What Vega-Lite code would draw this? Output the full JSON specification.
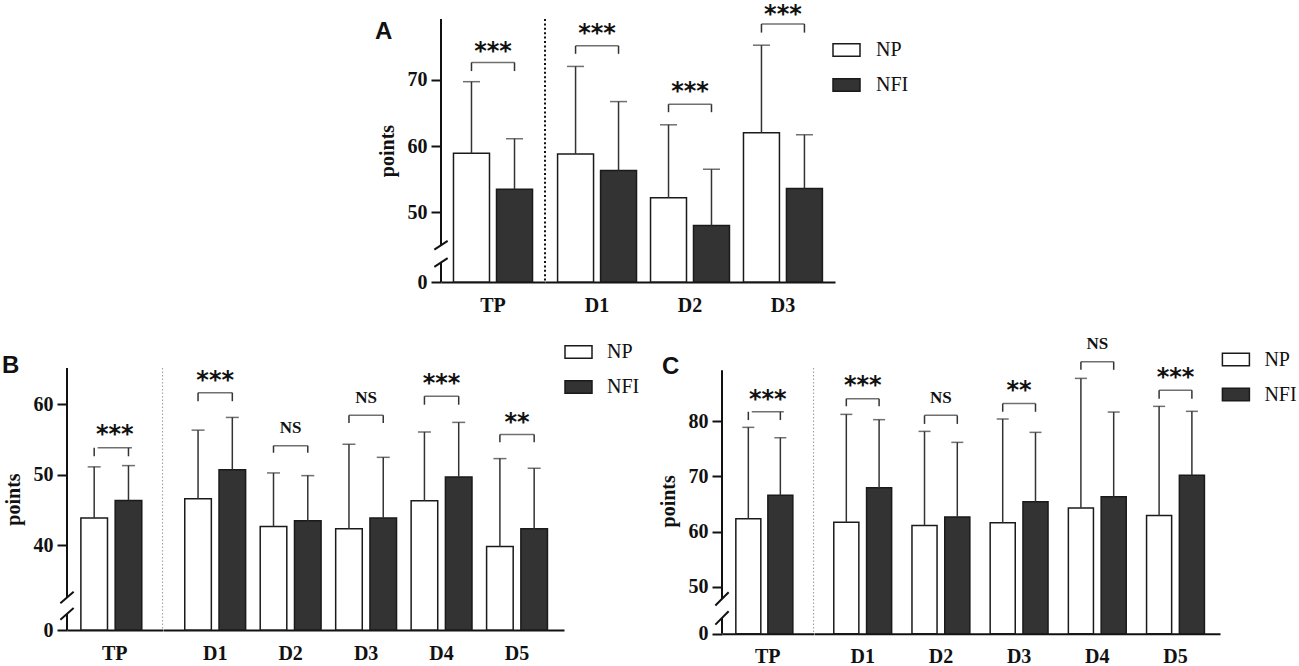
{
  "$schema": "https://vega.github.io/schema/vega-lite/v6.json",
  "padding": {"left": 2, "top": 2, "right": 0, "bottom": 0},
  "datasets": {
    "barsA": [
      {"group": "TP", "series": "NP", "mean": 58.9, "upper": 69.7},
      {"group": "TP", "series": "NFI", "mean": 53.5, "upper": 61.1},
      {"group": "D1", "series": "NP", "mean": 58.8, "upper": 72.0},
      {"group": "D1", "series": "NFI", "mean": 56.3, "upper": 66.7},
      {"group": "D2", "series": "NP", "mean": 52.2, "upper": 63.2},
      {"group": "D2", "series": "NFI", "mean": 48.0, "upper": 56.5},
      {"group": "D3", "series": "NP", "mean": 62.0, "upper": 75.2},
      {"group": "D3", "series": "NFI", "mean": 53.6, "upper": 61.7}
    ],
    "sigA": [
      {"group": "TP", "top": 72.6, "leg": 71.3, "label": "***", "label_y": 75.0},
      {"group": "D1", "top": 75.1, "leg": 73.9, "label": "***", "label_y": 77.6},
      {"group": "D2", "top": 66.3, "leg": 65.1, "label": "***", "label_y": 68.9},
      {"group": "D3", "top": 78.4, "leg": 77.1, "label": "***", "label_y": 80.55}
    ],
    "axisA": [{"from": 39.5, "to": 42.45}, {"from": 45.03, "to": 79.15}],
    "breaksA": [{"at": 42.45}, {"at": 45.03}],
    "barsB": [
      {"group": "TP", "series": "NP", "mean": 43.86, "upper": 51.1},
      {"group": "TP", "series": "NFI", "mean": 46.35, "upper": 51.28},
      {"group": "D1", "series": "NP", "mean": 46.6, "upper": 56.3},
      {"group": "D1", "series": "NFI", "mean": 50.7, "upper": 58.1},
      {"group": "D2", "series": "NP", "mean": 42.67, "upper": 50.24},
      {"group": "D2", "series": "NFI", "mean": 43.47, "upper": 49.86},
      {"group": "D3", "series": "NP", "mean": 42.34, "upper": 54.3},
      {"group": "D3", "series": "NFI", "mean": 43.86, "upper": 52.45},
      {"group": "D4", "series": "NP", "mean": 46.3, "upper": 56.05},
      {"group": "D4", "series": "NFI", "mean": 49.67, "upper": 57.4},
      {"group": "D5", "series": "NP", "mean": 39.83, "upper": 52.27},
      {"group": "D5", "series": "NFI", "mean": 42.34, "upper": 50.9}
    ],
    "sigB": [
      {"group": "TP", "top": 53.8, "leg": 52.6, "label": "***", "label_y": 56.3},
      {"group": "D1", "top": 61.6, "leg": 60.4, "label": "***", "label_y": 63.95},
      {"group": "D2", "top": 54.1, "leg": 53.1, "label": "NS", "label_y": 56.8},
      {"group": "D3", "top": 58.4, "leg": 57.3, "label": "NS", "label_y": 61.0},
      {"group": "D4", "top": 61.1, "leg": 59.9, "label": "***", "label_y": 63.5},
      {"group": "D5", "top": 55.7, "leg": 54.6, "label": "**", "label_y": 58.0}
    ],
    "axisB": [{"from": 28.0, "to": 30.27}, {"from": 32.6, "to": 65.1}],
    "breaksB": [{"at": 30.27}, {"at": 32.6}],
    "barsC": [
      {"group": "TP", "series": "NP", "mean": 62.33, "upper": 78.88},
      {"group": "TP", "series": "NFI", "mean": 66.56, "upper": 77.0},
      {"group": "D1", "series": "NP", "mean": 61.67, "upper": 81.23},
      {"group": "D1", "series": "NFI", "mean": 67.95, "upper": 80.27},
      {"group": "D2", "series": "NP", "mean": 61.12, "upper": 78.15},
      {"group": "D2", "series": "NFI", "mean": 62.63, "upper": 76.16},
      {"group": "D3", "series": "NP", "mean": 61.6, "upper": 80.39},
      {"group": "D3", "series": "NFI", "mean": 65.4, "upper": 77.97},
      {"group": "D4", "series": "NP", "mean": 64.26, "upper": 87.75},
      {"group": "D4", "series": "NFI", "mean": 66.3, "upper": 81.65},
      {"group": "D5", "series": "NP", "mean": 62.93, "upper": 82.68},
      {"group": "D5", "series": "NFI", "mean": 70.18, "upper": 81.78}
    ],
    "sigC": [
      {"group": "TP", "top": 81.7, "leg": 80.2, "label": "***", "label_y": 84.8},
      {"group": "D1", "top": 84.07, "leg": 82.7, "label": "***", "label_y": 87.2},
      {"group": "D2", "top": 81.05, "leg": 79.5, "label": "NS", "label_y": 84.4},
      {"group": "D3", "top": 83.2, "leg": 81.7, "label": "**", "label_y": 86.3},
      {"group": "D4", "top": 90.77, "leg": 89.3, "label": "NS", "label_y": 94.2},
      {"group": "D5", "top": 85.6, "leg": 84.07, "label": "***", "label_y": 88.7}
    ],
    "axisC": [{"from": 41.5, "to": 44.35}, {"from": 47.8, "to": 89.2}],
    "breaksC": [{"at": 44.35}, {"at": 47.8}]
  },
  "vconcat": [
    {
      "hconcat": [
        {"width": 308, "height": 1, "data": {"values": []}, "mark": {"type": "point", "opacity": 0}},
        {
          "hconcat": [
            {
              "width": 104, "height": 263,
              "title": {"text": "A", "dx": -66, "dy": 30},
              "layer": [
                {
                  "data": {"name": "barsA"}, "transform": [{"filter": "datum.group === 'TP'"}],
                  "mark": {"type": "bar", "stroke": "#1a1a1a", "strokeWidth": 1.5},
                  "encoding": {
                    "x": {"field": "group", "type": "nominal", "scale": {"domain": ["TP"], "paddingInner": 0, "paddingOuter": 0}, "axis": {"title": null}},
                    "xOffset": {"field": "series", "type": "nominal", "scale": {"domain": ["NP", "NFI"], "paddingInner": 0.163, "paddingOuter": 0.29}},
                    "y": {"field": "mean", "type": "quantitative", "scale": {"domain": [39.5, 79.15], "nice": false, "zero": false}, "axis": {"title": "points", "values": [39.5, 50, 60, 70], "labelExpr": "datum.value < 45 ? '0' : datum.label"}},
                    "y2": {"datum": 39.5},
                    "fill": {"field": "series", "type": "nominal", "scale": {"domain": ["NP", "NFI"], "range": ["#ffffff", "#333333"]}, "legend": null}
                  }
                },
                {
                  "data": {"name": "barsA"}, "transform": [{"filter": "datum.group === 'TP'"}],
                  "mark": {"type": "rule", "color": "#333333", "strokeWidth": 1.5},
                  "encoding": {"x": {"field": "group", "type": "nominal"}, "xOffset": {"field": "series", "type": "nominal"}, "y": {"field": "mean", "type": "quantitative"}, "y2": {"field": "upper"}}
                },
                {
                  "data": {"name": "barsA"}, "transform": [{"filter": "datum.group === 'TP'"}],
                  "mark": {"type": "tick", "color": "#333333", "size": 17, "thickness": 1.5},
                  "encoding": {"x": {"field": "group", "type": "nominal"}, "xOffset": {"field": "series", "type": "nominal"}, "y": {"field": "upper", "type": "quantitative"}}
                },
                {
                  "data": {"name": "barsA"}, "transform": [{"filter": "datum.group === 'TP'"}, {"lookup": "group", "from": {"data": {"name": "sigA"}, "key": "group", "fields": ["top", "leg"]}}],
                  "mark": {"type": "rule", "color": "#333333", "strokeWidth": 1.5},
                  "encoding": {"x": {"field": "group", "type": "nominal"}, "xOffset": {"field": "series", "type": "nominal"}, "y": {"field": "leg", "type": "quantitative"}, "y2": {"field": "top"}}
                },
                {
                  "data": {"name": "sigA"}, "transform": [{"filter": "datum.group === 'TP'"}],
                  "mark": {"type": "tick", "color": "#333333", "size": 43, "thickness": 1.5},
                  "encoding": {"x": {"field": "group", "type": "nominal"}, "y": {"field": "top", "type": "quantitative"}}
                },
                {
                  "data": {"name": "sigA"}, "transform": [{"filter": "datum.group === 'TP' && datum.label !== 'NS'"}],
                  "mark": {"type": "text", "font": "DejaVu Sans", "fontWeight": "bold", "fontSize": 24, "baseline": "alphabetic", "dy": 12, "color": "#111111"},
                  "encoding": {"x": {"field": "group", "type": "nominal"}, "y": {"field": "label_y", "type": "quantitative"}, "text": {"field": "label"}}
                },
                {
                  "data": {"name": "axisA"},
                  "mark": {"type": "rule", "color": "#111111", "strokeWidth": 2},
                  "encoding": {"x": {"datum": "TP", "type": "nominal", "bandPosition": 0}, "y": {"field": "from", "type": "quantitative"}, "y2": {"field": "to"}}
                },
                {
                  "data": {"name": "breaksA"},
                  "mark": {"type": "point", "shape": "M-1,0.66L1,-0.66", "filled": false, "stroke": "#111111", "strokeWidth": 2, "size": 177, "opacity": 1},
                  "encoding": {"x": {"datum": "TP", "type": "nominal", "bandPosition": 0}, "y": {"field": "at", "type": "quantitative"}}
                },
                {
                  "data": {"values": [{}]},
                  "mark": {"type": "rule", "color": "#111111", "strokeWidth": 2, "strokeDash": [2, 2.4]},
                  "encoding": {"x": {"datum": "TP", "type": "nominal", "bandPosition": 1}}
                }
              ]
            },
            {
              "width": 290, "height": 263,
              "layer": [
                {
                  "data": {"name": "barsA"}, "transform": [{"filter": "datum.group !== 'TP'"}],
                  "mark": {"type": "bar", "stroke": "#1a1a1a", "strokeWidth": 1.5},
                  "encoding": {
                    "x": {"field": "group", "type": "nominal", "scale": {"domain": ["D1", "D2", "D3"], "paddingInner": 0, "paddingOuter": 0.06}, "axis": {"title": null}},
                    "xOffset": {"field": "series", "type": "nominal", "scale": {"domain": ["NP", "NFI"], "paddingInner": 0.163, "paddingOuter": 0.163}},
                    "y": {"field": "mean", "type": "quantitative", "scale": {"domain": [39.5, 79.15], "nice": false, "zero": false}, "axis": null},
                    "y2": {"datum": 39.5},
                    "fill": {"field": "series", "type": "nominal", "scale": {"domain": ["NP", "NFI"], "range": ["#ffffff", "#333333"]},
                      "legend": {"title": null, "orient": "none", "legendX": 287, "legendY": 16.5, "symbolType": "M-1,-0.47H1V0.47H-1Z", "symbolSize": 729, "symbolStrokeColor": "#1a1a1a", "symbolStrokeWidth": 1.5, "labelFont": "Liberation Serif", "labelFontSize": 20, "labelColor": "#111111", "labelOffset": 15, "rowPadding": 10}}
                  }
                },
                {
                  "data": {"name": "barsA"}, "transform": [{"filter": "datum.group !== 'TP'"}],
                  "mark": {"type": "rule", "color": "#333333", "strokeWidth": 1.5},
                  "encoding": {"x": {"field": "group", "type": "nominal"}, "xOffset": {"field": "series", "type": "nominal"}, "y": {"field": "mean", "type": "quantitative", "axis": null}, "y2": {"field": "upper"}}
                },
                {
                  "data": {"name": "barsA"}, "transform": [{"filter": "datum.group !== 'TP'"}],
                  "mark": {"type": "tick", "color": "#333333", "size": 17, "thickness": 1.5},
                  "encoding": {"x": {"field": "group", "type": "nominal"}, "xOffset": {"field": "series", "type": "nominal"}, "y": {"field": "upper", "type": "quantitative", "axis": null}}
                },
                {
                  "data": {"name": "barsA"}, "transform": [{"filter": "datum.group !== 'TP'"}, {"lookup": "group", "from": {"data": {"name": "sigA"}, "key": "group", "fields": ["top", "leg"]}}],
                  "mark": {"type": "rule", "color": "#333333", "strokeWidth": 1.5},
                  "encoding": {"x": {"field": "group", "type": "nominal"}, "xOffset": {"field": "series", "type": "nominal"}, "y": {"field": "leg", "type": "quantitative", "axis": null}, "y2": {"field": "top"}}
                },
                {
                  "data": {"name": "sigA"}, "transform": [{"filter": "datum.group !== 'TP'"}],
                  "mark": {"type": "tick", "color": "#333333", "size": 43, "thickness": 1.5},
                  "encoding": {"x": {"field": "group", "type": "nominal"}, "y": {"field": "top", "type": "quantitative", "axis": null}}
                },
                {
                  "data": {"name": "sigA"}, "transform": [{"filter": "datum.group !== 'TP' && datum.label !== 'NS'"}],
                  "mark": {"type": "text", "font": "DejaVu Sans", "fontWeight": "bold", "fontSize": 24, "baseline": "alphabetic", "dy": 12, "color": "#111111"},
                  "encoding": {"x": {"field": "group", "type": "nominal"}, "y": {"field": "label_y", "type": "quantitative", "axis": null}, "text": {"field": "label"}}
                }
              ]
            }
          ],
          "spacing": 0, "bounds": "flush",
          "resolve": {"scale": {"x": "independent", "xOffset": "independent", "y": "independent", "fill": "independent"}, "legend": {"fill": "independent"}}
        }
      ],
      "spacing": 0,
      "resolve": {"scale": {"fill": "independent"}, "legend": {"fill": "independent"}}
    },
    {
      "hconcat": [
        {
          "hconcat": [
            {
              "width": 95.6, "height": 262,
              "title": {"text": "B", "dx": -65, "dy": 15},
              "layer": [
                {
                  "data": {"name": "barsB"}, "transform": [{"filter": "datum.group === 'TP'"}],
                  "mark": {"type": "bar", "stroke": "#1a1a1a", "strokeWidth": 1.5},
                  "encoding": {
                    "x": {"field": "group", "type": "nominal", "scale": {"domain": ["TP"], "paddingInner": 0, "paddingOuter": 0}, "axis": {"title": null}},
                    "xOffset": {"field": "series", "type": "nominal", "scale": {"domain": ["NP", "NFI"], "paddingInner": 0.224, "paddingOuter": 0.506, "align": 0.4}},
                    "y": {"field": "mean", "type": "quantitative", "scale": {"domain": [28.0, 65.1], "nice": false, "zero": false}, "axis": {"title": "points", "values": [28.0, 40, 50, 60], "labelExpr": "datum.value < 35 ? '0' : datum.label"}},
                    "y2": {"datum": 28.0},
                    "fill": {"field": "series", "type": "nominal", "scale": {"domain": ["NP", "NFI"], "range": ["#ffffff", "#333333"]}, "legend": null}
                  }
                },
                {
                  "data": {"name": "barsB"}, "transform": [{"filter": "datum.group === 'TP'"}],
                  "mark": {"type": "rule", "color": "#333333", "strokeWidth": 1.5},
                  "encoding": {"x": {"field": "group", "type": "nominal"}, "xOffset": {"field": "series", "type": "nominal"}, "y": {"field": "mean", "type": "quantitative"}, "y2": {"field": "upper"}}
                },
                {
                  "data": {"name": "barsB"}, "transform": [{"filter": "datum.group === 'TP'"}],
                  "mark": {"type": "tick", "color": "#333333", "size": 13, "thickness": 1.5},
                  "encoding": {"x": {"field": "group", "type": "nominal"}, "xOffset": {"field": "series", "type": "nominal"}, "y": {"field": "upper", "type": "quantitative"}}
                },
                {
                  "data": {"name": "barsB"}, "transform": [{"filter": "datum.group === 'TP'"}, {"lookup": "group", "from": {"data": {"name": "sigB"}, "key": "group", "fields": ["top", "leg"]}}],
                  "mark": {"type": "rule", "color": "#333333", "strokeWidth": 1.5},
                  "encoding": {"x": {"field": "group", "type": "nominal"}, "xOffset": {"field": "series", "type": "nominal"}, "y": {"field": "leg", "type": "quantitative"}, "y2": {"field": "top"}}
                },
                {
                  "data": {"name": "sigB"}, "transform": [{"filter": "datum.group === 'TP'"}],
                  "mark": {"type": "tick", "color": "#333333", "size": 34.3, "thickness": 1.5},
                  "encoding": {"x": {"field": "group", "type": "nominal"}, "y": {"field": "top", "type": "quantitative"}}
                },
                {
                  "data": {"name": "sigB"}, "transform": [{"filter": "datum.group === 'TP' && datum.label !== 'NS'"}],
                  "mark": {"type": "text", "font": "DejaVu Sans", "fontWeight": "bold", "fontSize": 24, "baseline": "alphabetic", "dy": 12, "color": "#111111"},
                  "encoding": {"x": {"field": "group", "type": "nominal"}, "y": {"field": "label_y", "type": "quantitative"}, "text": {"field": "label"}}
                },
                {
                  "data": {"name": "axisB"},
                  "mark": {"type": "rule", "color": "#111111", "strokeWidth": 2},
                  "encoding": {"x": {"datum": "TP", "type": "nominal", "bandPosition": 0}, "y": {"field": "from", "type": "quantitative"}, "y2": {"field": "to"}}
                },
                {
                  "data": {"name": "breaksB"},
                  "mark": {"type": "point", "shape": "M-1,0.88L1,-0.88", "filled": false, "stroke": "#111111", "strokeWidth": 2, "size": 177, "opacity": 1},
                  "encoding": {"x": {"datum": "TP", "type": "nominal", "bandPosition": 0}, "y": {"field": "at", "type": "quantitative"}}
                },
                {
                  "data": {"values": [{}]},
                  "mark": {"type": "rule", "color": "#999999", "strokeWidth": 1, "strokeDash": [1.5, 2]},
                  "encoding": {"x": {"datum": "TP", "type": "nominal", "bandPosition": 1}}
                }
              ]
            },
            {
              "width": 401, "height": 262,
              "layer": [
                {
                  "data": {"name": "barsB"}, "transform": [{"filter": "datum.group !== 'TP'"}],
                  "mark": {"type": "bar", "stroke": "#1a1a1a", "strokeWidth": 1.5},
                  "encoding": {
                    "x": {"field": "group", "type": "nominal", "scale": {"domain": ["D1", "D2", "D3", "D4", "D5"], "paddingInner": 0, "paddingOuter": 0.157, "align": 0.61}, "axis": {"title": null}},
                    "xOffset": {"field": "series", "type": "nominal", "scale": {"domain": ["NP", "NFI"], "paddingInner": 0.224, "paddingOuter": 0.213}},
                    "y": {"field": "mean", "type": "quantitative", "scale": {"domain": [28.0, 65.1], "nice": false, "zero": false}, "axis": null},
                    "y2": {"datum": 28.0},
                    "fill": {"field": "series", "type": "nominal", "scale": {"domain": ["NP", "NFI"], "range": ["#ffffff", "#333333"]},
                      "legend": {"title": null, "orient": "none", "legendX": 401, "legendY": -30.5, "symbolType": "M-1,-0.47H1V0.47H-1Z", "symbolSize": 729, "symbolStrokeColor": "#1a1a1a", "symbolStrokeWidth": 1.5, "labelFont": "Liberation Serif", "labelFontSize": 20, "labelColor": "#111111", "labelOffset": 14, "rowPadding": 10}}
                  }
                },
                {
                  "data": {"name": "barsB"}, "transform": [{"filter": "datum.group !== 'TP'"}],
                  "mark": {"type": "rule", "color": "#333333", "strokeWidth": 1.5},
                  "encoding": {"x": {"field": "group", "type": "nominal"}, "xOffset": {"field": "series", "type": "nominal"}, "y": {"field": "mean", "type": "quantitative", "axis": null}, "y2": {"field": "upper"}}
                },
                {
                  "data": {"name": "barsB"}, "transform": [{"filter": "datum.group !== 'TP'"}],
                  "mark": {"type": "tick", "color": "#333333", "size": 13, "thickness": 1.5},
                  "encoding": {"x": {"field": "group", "type": "nominal"}, "xOffset": {"field": "series", "type": "nominal"}, "y": {"field": "upper", "type": "quantitative", "axis": null}}
                },
                {
                  "data": {"name": "barsB"}, "transform": [{"filter": "datum.group !== 'TP'"}, {"lookup": "group", "from": {"data": {"name": "sigB"}, "key": "group", "fields": ["top", "leg"]}}],
                  "mark": {"type": "rule", "color": "#333333", "strokeWidth": 1.5},
                  "encoding": {"x": {"field": "group", "type": "nominal"}, "xOffset": {"field": "series", "type": "nominal"}, "y": {"field": "leg", "type": "quantitative", "axis": null}, "y2": {"field": "top"}}
                },
                {
                  "data": {"name": "sigB"}, "transform": [{"filter": "datum.group !== 'TP'"}],
                  "mark": {"type": "tick", "color": "#333333", "size": 34.3, "thickness": 1.5},
                  "encoding": {"x": {"field": "group", "type": "nominal"}, "y": {"field": "top", "type": "quantitative", "axis": null}}
                },
                {
                  "data": {"name": "sigB"}, "transform": [{"filter": "datum.group !== 'TP' && datum.label !== 'NS'"}],
                  "mark": {"type": "text", "font": "DejaVu Sans", "fontWeight": "bold", "fontSize": 24, "baseline": "alphabetic", "dy": 12, "color": "#111111"},
                  "encoding": {"x": {"field": "group", "type": "nominal"}, "y": {"field": "label_y", "type": "quantitative", "axis": null}, "text": {"field": "label"}}
                },
                {
                  "data": {"name": "sigB"}, "transform": [{"filter": "datum.group !== 'TP' && datum.label === 'NS'"}],
                  "mark": {"type": "text", "font": "Liberation Serif", "fontWeight": "bold", "fontSize": 17, "baseline": "alphabetic", "dy": 6, "color": "#111111"},
                  "encoding": {"x": {"field": "group", "type": "nominal"}, "y": {"field": "label_y", "type": "quantitative", "axis": null}, "text": {"field": "label"}}
                }
              ]
            }
          ],
          "spacing": 0, "bounds": "flush",
          "resolve": {"scale": {"x": "independent", "xOffset": "independent", "y": "independent", "fill": "independent"}, "legend": {"fill": "independent"}}
        },
        {
          "hconcat": [
            {
              "width": 91.6, "height": 265.7,
              "title": {"text": "C", "dx": -60, "dy": 15},
              "layer": [
                {
                  "data": {"name": "barsC"}, "transform": [{"filter": "datum.group === 'TP'"}],
                  "mark": {"type": "bar", "stroke": "#1a1a1a", "strokeWidth": 1.5},
                  "encoding": {
                    "x": {"field": "group", "type": "nominal", "scale": {"domain": ["TP"], "paddingInner": 0, "paddingOuter": 0}, "axis": {"title": null}},
                    "xOffset": {"field": "series", "type": "nominal", "scale": {"domain": ["NP", "NFI"], "paddingInner": 0.22, "paddingOuter": 0.54, "align": 0.4}},
                    "y": {"field": "mean", "type": "quantitative", "scale": {"domain": [41.5, 89.63], "nice": false, "zero": false}, "axis": {"title": "points", "values": [41.5, 50, 60, 70, 80], "labelExpr": "datum.value < 45 ? '0' : datum.label"}},
                    "y2": {"datum": 41.5},
                    "fill": {"field": "series", "type": "nominal", "scale": {"domain": ["NP", "NFI"], "range": ["#ffffff", "#333333"]}, "legend": null}
                  }
                },
                {
                  "data": {"name": "barsC"}, "transform": [{"filter": "datum.group === 'TP'"}],
                  "mark": {"type": "rule", "color": "#333333", "strokeWidth": 1.5},
                  "encoding": {"x": {"field": "group", "type": "nominal"}, "xOffset": {"field": "series", "type": "nominal"}, "y": {"field": "mean", "type": "quantitative"}, "y2": {"field": "upper"}}
                },
                {
                  "data": {"name": "barsC"}, "transform": [{"filter": "datum.group === 'TP'"}],
                  "mark": {"type": "tick", "color": "#333333", "size": 12, "thickness": 1.5},
                  "encoding": {"x": {"field": "group", "type": "nominal"}, "xOffset": {"field": "series", "type": "nominal"}, "y": {"field": "upper", "type": "quantitative"}}
                },
                {
                  "data": {"name": "barsC"}, "transform": [{"filter": "datum.group === 'TP'"}, {"lookup": "group", "from": {"data": {"name": "sigC"}, "key": "group", "fields": ["top", "leg"]}}],
                  "mark": {"type": "rule", "color": "#333333", "strokeWidth": 1.5},
                  "encoding": {"x": {"field": "group", "type": "nominal"}, "xOffset": {"field": "series", "type": "nominal"}, "y": {"field": "leg", "type": "quantitative"}, "y2": {"field": "top"}}
                },
                {
                  "data": {"name": "sigC"}, "transform": [{"filter": "datum.group === 'TP'"}],
                  "mark": {"type": "tick", "color": "#333333", "size": 32, "thickness": 1.5},
                  "encoding": {"x": {"field": "group", "type": "nominal"}, "y": {"field": "top", "type": "quantitative"}}
                },
                {
                  "data": {"name": "sigC"}, "transform": [{"filter": "datum.group === 'TP' && datum.label !== 'NS'"}],
                  "mark": {"type": "text", "font": "DejaVu Sans", "fontWeight": "bold", "fontSize": 24, "baseline": "alphabetic", "dy": 12, "color": "#111111"},
                  "encoding": {"x": {"field": "group", "type": "nominal"}, "y": {"field": "label_y", "type": "quantitative"}, "text": {"field": "label"}}
                },
                {
                  "data": {"name": "axisC"},
                  "mark": {"type": "rule", "color": "#111111", "strokeWidth": 2},
                  "encoding": {"x": {"datum": "TP", "type": "nominal", "bandPosition": 0}, "y": {"field": "from", "type": "quantitative"}, "y2": {"field": "to"}}
                },
                {
                  "data": {"name": "breaksC"},
                  "mark": {"type": "point", "shape": "M-1,1L1,-1", "filled": false, "stroke": "#111111", "strokeWidth": 2, "size": 177, "opacity": 1},
                  "encoding": {"x": {"datum": "TP", "type": "nominal", "bandPosition": 0}, "y": {"field": "at", "type": "quantitative"}}
                },
                {
                  "data": {"values": [{}]},
                  "mark": {"type": "rule", "color": "#999999", "strokeWidth": 1, "strokeDash": [1.5, 2]},
                  "encoding": {"x": {"datum": "TP", "type": "nominal", "bandPosition": 1}}
                }
              ]
            },
            {
              "width": 406, "height": 265.7,
              "layer": [
                {
                  "data": {"name": "barsC"}, "transform": [{"filter": "datum.group !== 'TP'"}],
                  "mark": {"type": "bar", "stroke": "#1a1a1a", "strokeWidth": 1.5},
                  "encoding": {
                    "x": {"field": "group", "type": "nominal", "scale": {"domain": ["D1", "D2", "D3", "D4", "D5"], "paddingInner": 0, "paddingOuter": 0.096, "align": 0.64}, "axis": {"title": null}},
                    "xOffset": {"field": "series", "type": "nominal", "scale": {"domain": ["NP", "NFI"], "paddingInner": 0.235, "paddingOuter": 0.31}},
                    "y": {"field": "mean", "type": "quantitative", "scale": {"domain": [41.5, 89.63], "nice": false, "zero": false}, "axis": null},
                    "y2": {"datum": 41.5},
                    "fill": {"field": "series", "type": "nominal", "scale": {"domain": ["NP", "NFI"], "range": ["#ffffff", "#333333"]},
                      "legend": {"title": null, "orient": "none", "legendX": 407.4, "legendY": -23, "symbolType": "M-1,-0.47H1V0.47H-1Z", "symbolSize": 729, "symbolStrokeColor": "#1a1a1a", "symbolStrokeWidth": 1.5, "labelFont": "Liberation Serif", "labelFontSize": 20, "labelColor": "#111111", "labelOffset": 14, "rowPadding": 10}}
                  }
                },
                {
                  "data": {"name": "barsC"}, "transform": [{"filter": "datum.group !== 'TP'"}],
                  "mark": {"type": "rule", "color": "#333333", "strokeWidth": 1.5},
                  "encoding": {"x": {"field": "group", "type": "nominal"}, "xOffset": {"field": "series", "type": "nominal"}, "y": {"field": "mean", "type": "quantitative", "axis": null}, "y2": {"field": "upper"}}
                },
                {
                  "data": {"name": "barsC"}, "transform": [{"filter": "datum.group !== 'TP'"}],
                  "mark": {"type": "tick", "color": "#333333", "size": 12, "thickness": 1.5},
                  "encoding": {"x": {"field": "group", "type": "nominal"}, "xOffset": {"field": "series", "type": "nominal"}, "y": {"field": "upper", "type": "quantitative", "axis": null}}
                },
                {
                  "data": {"name": "barsC"}, "transform": [{"filter": "datum.group !== 'TP'"}, {"lookup": "group", "from": {"data": {"name": "sigC"}, "key": "group", "fields": ["top", "leg"]}}],
                  "mark": {"type": "rule", "color": "#333333", "strokeWidth": 1.5},
                  "encoding": {"x": {"field": "group", "type": "nominal"}, "xOffset": {"field": "series", "type": "nominal"}, "y": {"field": "leg", "type": "quantitative", "axis": null}, "y2": {"field": "top"}}
                },
                {
                  "data": {"name": "sigC"}, "transform": [{"filter": "datum.group !== 'TP'"}],
                  "mark": {"type": "tick", "color": "#333333", "size": 32.7, "thickness": 1.5},
                  "encoding": {"x": {"field": "group", "type": "nominal"}, "y": {"field": "top", "type": "quantitative", "axis": null}}
                },
                {
                  "data": {"name": "sigC"}, "transform": [{"filter": "datum.group !== 'TP' && datum.label !== 'NS'"}],
                  "mark": {"type": "text", "font": "DejaVu Sans", "fontWeight": "bold", "fontSize": 24, "baseline": "alphabetic", "dy": 12, "color": "#111111"},
                  "encoding": {"x": {"field": "group", "type": "nominal"}, "y": {"field": "label_y", "type": "quantitative", "axis": null}, "text": {"field": "label"}}
                },
                {
                  "data": {"name": "sigC"}, "transform": [{"filter": "datum.group !== 'TP' && datum.label === 'NS'"}],
                  "mark": {"type": "text", "font": "Liberation Serif", "fontWeight": "bold", "fontSize": 17, "baseline": "alphabetic", "dy": 6, "color": "#111111"},
                  "encoding": {"x": {"field": "group", "type": "nominal"}, "y": {"field": "label_y", "type": "quantitative", "axis": null}, "text": {"field": "label"}}
                }
              ]
            }
          ],
          "spacing": 0, "bounds": "flush",
          "resolve": {"scale": {"x": "independent", "xOffset": "independent", "y": "independent", "fill": "independent"}, "legend": {"fill": "independent"}}
        }
      ],
      "spacing": 18,
      "resolve": {"scale": {"fill": "independent"}, "legend": {"fill": "independent"}}
    }
  ],
  "spacing": 19,
  "resolve": {"scale": {"fill": "independent"}, "legend": {"fill": "independent"}},
  "config": {
    "view": {"stroke": null},
    "axis": {
      "labelFont": "Liberation Serif", "labelFontWeight": "bold", "labelFontSize": 20, "labelColor": "#111111",
      "titleFont": "Liberation Serif", "titleFontWeight": "bold", "titleFontSize": 20, "titleColor": "#111111",
      "domainColor": "#111111", "domainWidth": 2, "tickColor": "#111111", "tickWidth": 2, "tickSize": 10, "grid": false
    },
    "axisX": {"ticks": false, "labelPadding": 13, "labelAngle": 0},
    "axisY": {"domain": false, "labelPadding": 4, "titlePadding": 10},
    "title": {"font": "Liberation Sans", "fontSize": 24, "fontWeight": "bold", "anchor": "start", "frame": "group", "baseline": "alphabetic", "offset": 0, "color": "#111111"}
  }
}
